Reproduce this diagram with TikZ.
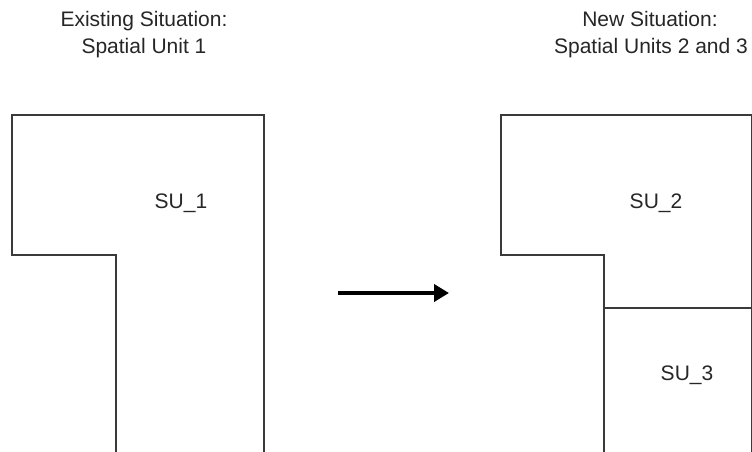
\documentclass[tikz,border=0pt]{standalone}
\usepackage{fontspec}
\setmainfont{Liberation Sans}
\usetikzlibrary{arrows.meta}
\definecolor{ink}{HTML}{262626}
\definecolor{edge}{HTML}{3A3A3A}
\tikzset{
  title/.style={anchor=base, inner sep=0pt, text=ink, font=\fontsize{21}{26}\selectfont},
  sulabel/.style={anchor=base, inner sep=0pt, text=ink, font=\fontsize{21}{26}\selectfont},
  outline/.style={draw=edge, line width=1.1pt},
  bigarrow/.style={-{Triangle[length=15pt,width=17pt]}, line width=4.5pt, black}
}
\begin{document}
\begin{tikzpicture}[x=1pt,y=-1pt]
\useasboundingbox (0,0) rectangle (752,452);
% titles
\node[title] (tl1) at (144,27) {Existing Situation:};
\node[title] (tl2) at (144,53) {Spatial Unit 1};
\node[title] (tr1) at (650,27) {New Situation:};
\node[title] (tr2) at (651,53) {Spatial Units 2 and 3};
% existing parcel
\draw[outline] (116,453) -- (116,255) -- (12,255) -- (12,115) -- (264,115) -- (264,453);
\node[sulabel] (su1) at (181,208) {SU\_1};
% new parcels
\draw[outline] (604,453) -- (604,255) -- (501,255) -- (501,115) -- (751.3,115) -- (751.3,453);
\draw[outline] (604,308) -- (751.3,308);
\node[sulabel] (su2) at (656,208) {SU\_2};
\node[sulabel] (su3) at (687,380) {SU\_3};
% arrow
\coordinate (as) at (338,293);
\coordinate (ae) at (449,293);
\draw[bigarrow] (as) -- (ae);
\end{tikzpicture}
\end{document}
